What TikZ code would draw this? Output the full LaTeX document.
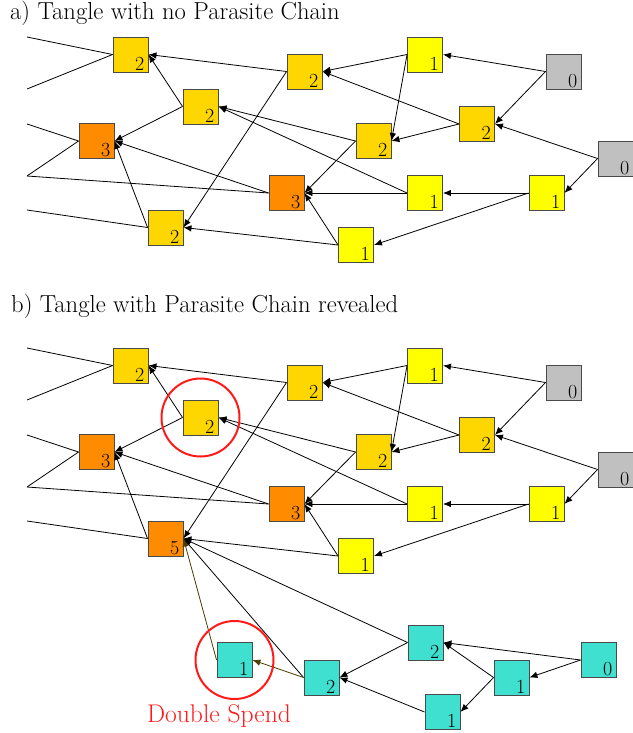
\documentclass[tikz,border=0pt]{standalone}
\usepackage{fontspec}
\usetikzlibrary{arrows.meta}
\definecolor{txgold}{HTML}{FFD700}
\definecolor{txorange}{HTML}{FF8C00}
\definecolor{txyellow}{HTML}{FFFF00}
\definecolor{txgray}{HTML}{C0C0C0}
\definecolor{txturq}{HTML}{40E0D0}
\definecolor{txframe}{HTML}{4A4A4A}
\definecolor{txolive}{HTML}{4A3C00}
\definecolor{txred}{HTML}{FF1A1A}
\tikzset{
  tbox/.style={draw=txframe, line width=0.9pt, minimum size=35pt, inner sep=0pt},
  digit/.style={inner sep=0pt, font=\fontsize{20}{24}\selectfont},
  edge/.style={line width=0.8pt, -{Latex[length=8pt,width=6.5pt]}},
  feed/.style={line width=0.8pt},
  title/.style={anchor=base west, inner sep=0pt, font=\fontsize{24.6}{29}\selectfont},
  ring/.style={draw=txred, line width=2pt}
}
\begin{document}
\begin{tikzpicture}[x=1pt, y=-1pt]
\useasboundingbox (0,0) rectangle (632,733);

\node[title] (ta) at (10,20) {a) Tangle with no Parasite Chain};
\node[title] (tb) at (11,312) {b) Tangle with Parasite Chain revealed};

% the two tangles share the same layout, the second one shifted down
\foreach \p/\dy in {a/0, b/311} {
  \foreach \n/\x/\y/\c/\d in {
      1/130.5/54.5/txgold/2, 2/200.5/106.5/txgold/2, 3/96.5/141/txorange/3,
      4/286.5/193/txorange/3, 6/304.5/71.5/txgold/2, 7/425/54.5/txyellow/1,
      8/563.5/71.5/txgray/0, 9/477/124/txgold/2, 10/373.5/141/txgold/2,
      11/615.5/158.5/txgray/0, 12/425/193/txyellow/1, 13/546.5/193/txyellow/1,
      14/356/245/txyellow/1} {
    \node[tbox, fill=\c] (\p\n) at (\x,\y+\dy) {};
    \node[digit, anchor=base east] (\p\n d) at ([xshift=-4pt,yshift=2pt]\p\n.south east) {\d};
  }
  \coordinate (\p L1) at (27,37+\dy);
  \coordinate (\p L2) at (27,89+\dy);
  \coordinate (\p L3) at (27,124+\dy);
  \coordinate (\p L4) at (27,176+\dy);
  \coordinate (\p L5) at (27,210+\dy);
}

\node[tbox, fill=txgold] (a5) at (165.5,227.5) {};
\node[digit, anchor=base east] (a5d) at ([xshift=-4pt,yshift=2pt]a5.south east) {2};
\node[tbox, fill=txorange] (b5) at (165.5,538.5) {};
\node[digit, anchor=base east] (b5d) at ([xshift=-4pt,yshift=2pt]b5.south east) {5};

% parasite chain
\foreach \n/\x/\y/\d in {1/234.5/660/1, 2/321.5/677.5/2, 3/425.5/642.5/2,
                         4/511.5/677.5/1, 5/598.5/660/0, 6/442.5/712/1} {
  \node[tbox, fill=txturq] (t\n) at (\x,\y) {};
  \node[digit, anchor=base east] (t\n d) at ([xshift=-4pt,yshift=2pt]t\n.south east) {\d};
}

% approvals
\foreach \p in {a,b} {
  \foreach \s/\t in {6/1, 2/1, 2/3, 4/3, 5/3, 6/5, 14/5, 7/6, 9/6, 7/10, 9/10,
                     8/7, 8/9, 11/9, 11/13, 13/12, 13/14, 12/4, 10/4, 14/4,
                     10/2, 12/2} {
    \draw[edge] (\p\s.west) -- (\p\t.east);
  }
  \draw[feed] (\p L1) -- (\p1.west);
  \draw[feed] (\p L2) -- (\p1.west);
  \draw[feed] (\p L3) -- (\p3.west);
  \draw[feed] (\p L4) -- (\p3.west);
  \draw[feed] (\p L4) -- (\p4.west);
  \draw[feed] (\p L5) -- (\p5.west);
}

\foreach \s/\t in {5/3, 5/4, 4/3, 4/6, 3/2, 6/2} {
  \draw[edge] (t\s.west) -- (t\t.east);
}
\draw[edge] (t2.west) -- (b5.east);
\draw[edge] (t3.west) -- (b5.east);
\draw[edge, draw=txolive] (t2.west) -- (t1.east);
\draw[edge, draw=txolive] (t1.west) -- (b5.east);

% double spend markers
\draw[ring] (b2) circle[radius=39pt];
\draw[ring] (t1) circle[radius=39pt];
\node[anchor=base, inner sep=0pt, text=txred, font=\fontsize{25.6}{30}\selectfont] (ds) at (219,722) {Double Spend};
\end{tikzpicture}
\end{document}
